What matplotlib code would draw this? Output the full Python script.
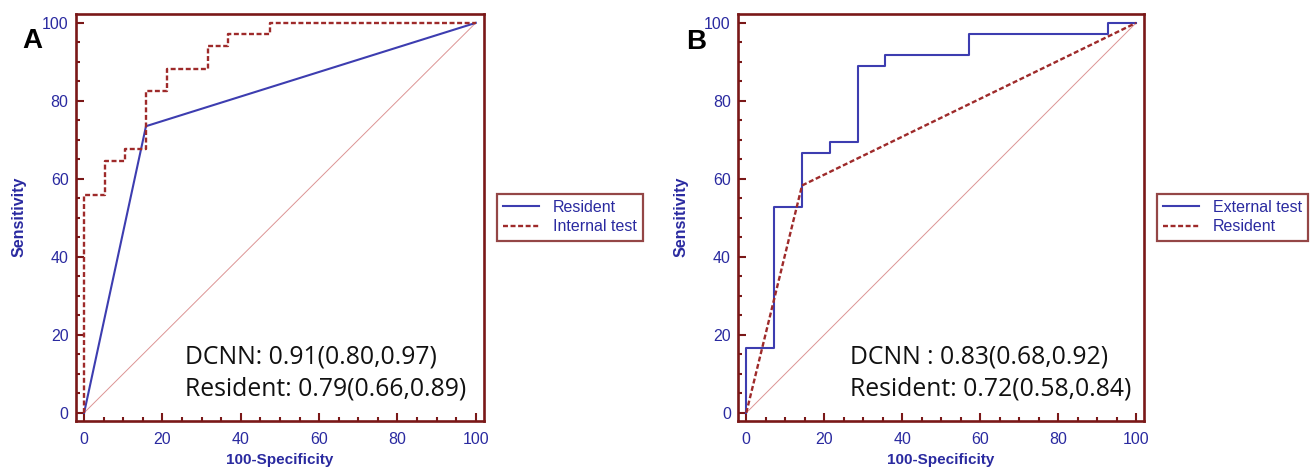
import matplotlib
matplotlib.use("Agg")
import matplotlib.pyplot as plt
from matplotlib.ticker import MultipleLocator

# ROC vertices (percent)
int_fpr = [0, 0, 5.3, 10.5, 15.8, 21.1, 31.6, 36.8, 47.4, 100]
int_tpr = [0, 55.9, 64.7, 67.6, 82.4, 88.2, 94.1, 97.1, 100, 100]
res_a_fpr = [0, 15.8, 100]
res_a_tpr = [0, 73.5, 100]

ext_fpr = [0, 0, 7.1, 14.3, 21.4, 28.6, 35.7, 57.1, 92.9, 100]
ext_tpr = [0, 16.7, 52.8, 66.7, 69.4, 88.9, 91.7, 97.2, 100, 100]
res_b_fpr = [0, 14.3, 100]
res_b_tpr = [0, 58.3, 100]

auc_a = ["DCNN: 0.91(0.80,0.97)", "Resident: 0.79(0.66,0.89)"]
auc_b = ["DCNN : 0.83(0.68,0.92)", "Resident: 0.72(0.58,0.84)"]

SPINE = "#7a1818"
BLUE = "#3d3db0"
RED = "#9e2a2a"
DIAG = "#dc9494"
TXT = "#2a2aa0"
DASH = (0, (2.1, 1.1))

plt.rcParams["font.family"] = ["Liberation Sans", "DejaVu Sans"]

W, H = 1312, 470
fig = plt.figure(figsize=(W / 100, H / 100), dpi=100)


def px_axes(left, right, top, bottom):
    return fig.add_axes([left / W, 1 - bottom / H, (right - left) / W,
                         (bottom - top) / H])


def style(ax):
    ax.set_xlim(-2.2, 102.1)
    ax.set_ylim(-2.1, 102.4)
    for s in ax.spines.values():
        s.set_color(SPINE)
        s.set_linewidth(1.9)
    ax.xaxis.set_major_locator(MultipleLocator(20))
    ax.yaxis.set_major_locator(MultipleLocator(20))
    ax.xaxis.set_minor_locator(MultipleLocator(5))
    ax.yaxis.set_minor_locator(MultipleLocator(5))
    ax.tick_params(which="both", direction="in", color=SPINE, width=1.5,
                   top=False, right=False)
    ax.tick_params(which="major", length=5.5, labelsize=11.5,
                   labelcolor=TXT)
    ax.tick_params(axis="x", which="major", pad=8)
    ax.tick_params(axis="y", which="major", pad=5)
    ax.tick_params(which="minor", length=3)
    ax.set_xlabel("100-Specificity", color=TXT, fontsize=11,
                  fontweight="bold", labelpad=4)
    ax.set_ylabel("Sensitivity", color=TXT, fontsize=11.5,
                  fontweight="bold", labelpad=11)
    ax.plot([0, 100], [0, 100], color=DIAG, lw=0.7, zorder=1)


def legend(ax, x, y):
    leg = ax.legend(loc="upper left", bbox_to_anchor=(x / W, 1 - y / H),
                    bbox_transform=fig.transFigure, borderaxespad=0,
                    fancybox=False, frameon=True, fontsize=11.5,
                    handlelength=2.2, handletextpad=0.9, labelspacing=0.28,
                    borderpad=0.4, labelcolor=TXT)
    leg.get_frame().set_edgecolor(SPINE)
    leg.get_frame().set_linewidth(1.6)


def auc_text(ax, xf, lines):
    for yf, s in zip([0.1416, 0.0638], lines):
        ax.text(xf, yf, s, transform=ax.transAxes, fontsize=17.8,
                family="Open Sans", color="#111111", va="baseline")


# Panel A
ax1 = px_axes(75.5, 484, 13.5, 421)
style(ax1)
ax1.plot(res_a_fpr, res_a_tpr, color=BLUE, lw=1.5, label="Resident")
ax1.plot(int_fpr, int_tpr, color=RED, lw=1.7, ls=DASH,
         drawstyle="steps-post", label="Internal test")
legend(ax1, 497, 193.5)
auc_text(ax1, 0.268, auc_a)
fig.text(22.7 / W, 1 - 48 / H, "A", fontsize=20, fontweight="bold",
         va="baseline", ha="left")

# Panel B
ax2 = px_axes(737.7, 1144.3, 13.5, 421)
style(ax2)
ax2.plot(ext_fpr, ext_tpr, color=BLUE, lw=1.5, drawstyle="steps-post",
         label="External test")
ax2.plot(res_b_fpr, res_b_tpr, color=RED, lw=1.7, ls=DASH,
         label="Resident")
legend(ax2, 1157, 193.5)
auc_text(ax2, 0.277, auc_b)
fig.text(686 / W, 1 - 49 / H, "B", fontsize=20, fontweight="bold",
         va="baseline", ha="left")

fig.savefig("out.png", dpi=100)
